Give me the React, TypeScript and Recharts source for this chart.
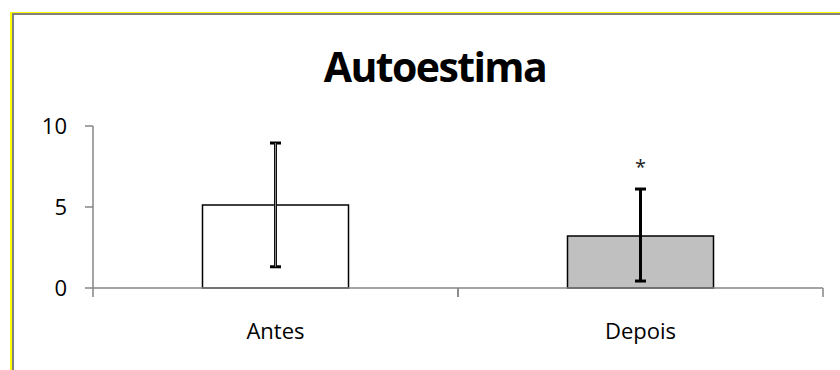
import { BarChart, Bar, XAxis, YAxis, ErrorBar, Cell, ReferenceDot } from "recharts"

const categories = ["Antes", "Depois"]
const means = [5.12, 3.21]
const errLow = [3.81, 2.78]
const errHigh = [3.83, 2.9]
const fills = ["#ffffff", "#c0c0c0"]
const yTicks = [0, 5, 10]
const marks = ["", "*"]
const markY = 7.5

const data = categories.map((name, i) => ({
  name,
  media: means[i],
  err: [errLow[i], errHigh[i]],
  // grey core only on the first stem
  stem: i === 0 ? [errLow[i], errHigh[i]] : [0, 0],
}))

const font = "'Open Sans', sans-serif"
const axisGrey = "#868686"

// category label plus tick marks on the band edges (Excel style)
function CatTick(props: any) {
  const { x, y, payload } = props
  const half = payload?.offset ?? 0
  return (
    <g>
      {half > 0 && (
        <>
          <line x1={x - half} x2={x - half} y1={y} y2={y + 9} stroke={axisGrey} strokeWidth={1.5} />
          <line x1={x + half} x2={x + half} y1={y} y2={y + 9} stroke={axisGrey} strokeWidth={1.5} />
        </>
      )}
      <text x={x} y={y + 35} dy="0.71em" textAnchor="middle" fill="#000" fontSize={22} fontFamily={font}>
        {payload.value}
      </text>
    </g>
  )
}

export default function App() {
  return (
    <div style={{ position: "absolute", left: 0, top: 0, width: 840, height: 370, background: "#fff", fontFamily: font }}>
      <div
        style={{
          position: "absolute",
          left: 10,
          top: 12,
          right: 0,
          bottom: 0,
          borderLeft: "2px solid #ffff00",
          borderTop: "1.5px solid #ffff00",
        }}
      >
        <div style={{ position: "absolute", inset: 0, borderLeft: "2px solid #808080", borderTop: "2px solid #808080" }} />
      </div>
      <div
        style={{
          position: "absolute",
          left: 0,
          width: 870,
          top: 44,
          textAlign: "center",
          fontSize: 41,
          fontWeight: 700,
          letterSpacing: -1.6,
          lineHeight: "44px",
          color: "#000",
        }}
      >
        Autoestima
      </div>
      <div style={{ position: "absolute", left: 0, top: 0 }}>
        <BarChart
          width={840}
          height={370}
          data={data}
          barCategoryGap="30%"
          margin={{ top: 126, right: 17, left: 0, bottom: 32 }}
        >
          <XAxis
            dataKey="name"
            height={50}
            tickLine={false}
            tickSize={0}
            tickMargin={0}
            axisLine={{ stroke: axisGrey, strokeWidth: 1.5 }}
            tick={<CatTick />}
          />
          <YAxis
            width={93}
            domain={[0, 10]}
            ticks={yTicks}
            tickSize={8}
            tickMargin={18}
            axisLine={{ stroke: axisGrey, strokeWidth: 1.5 }}
            tickLine={{ stroke: axisGrey, strokeWidth: 1.5 }}
            tick={{ fill: "#000", fontSize: 22, fontFamily: font }}
          />
          <Bar dataKey="media" stroke="#000" strokeWidth={1.5} isAnimationActive={false}>
            {data.map((d, i) => (
              <Cell key={d.name} fill={fills[i]} />
            ))}
            <ErrorBar dataKey="err" direction="y" width={5.5} stroke="#000" strokeWidth={3} isAnimationActive={false} />
            <ErrorBar dataKey="stem" direction="y" width={0} stroke="#8a8a8a" strokeWidth={1.2} isAnimationActive={false} />
          </Bar>
          {categories.map((c, i) =>
            marks[i] ? (
              <ReferenceDot
                key={c}
                x={c}
                y={markY}
                r={0}
                stroke="none"
                fill="none"
                label={{ value: marks[i], position: "center", fontSize: 20, fill: "#222", fontFamily: font }}
              />
            ) : null
          )}
        </BarChart>
      </div>
    </div>
  )
}
